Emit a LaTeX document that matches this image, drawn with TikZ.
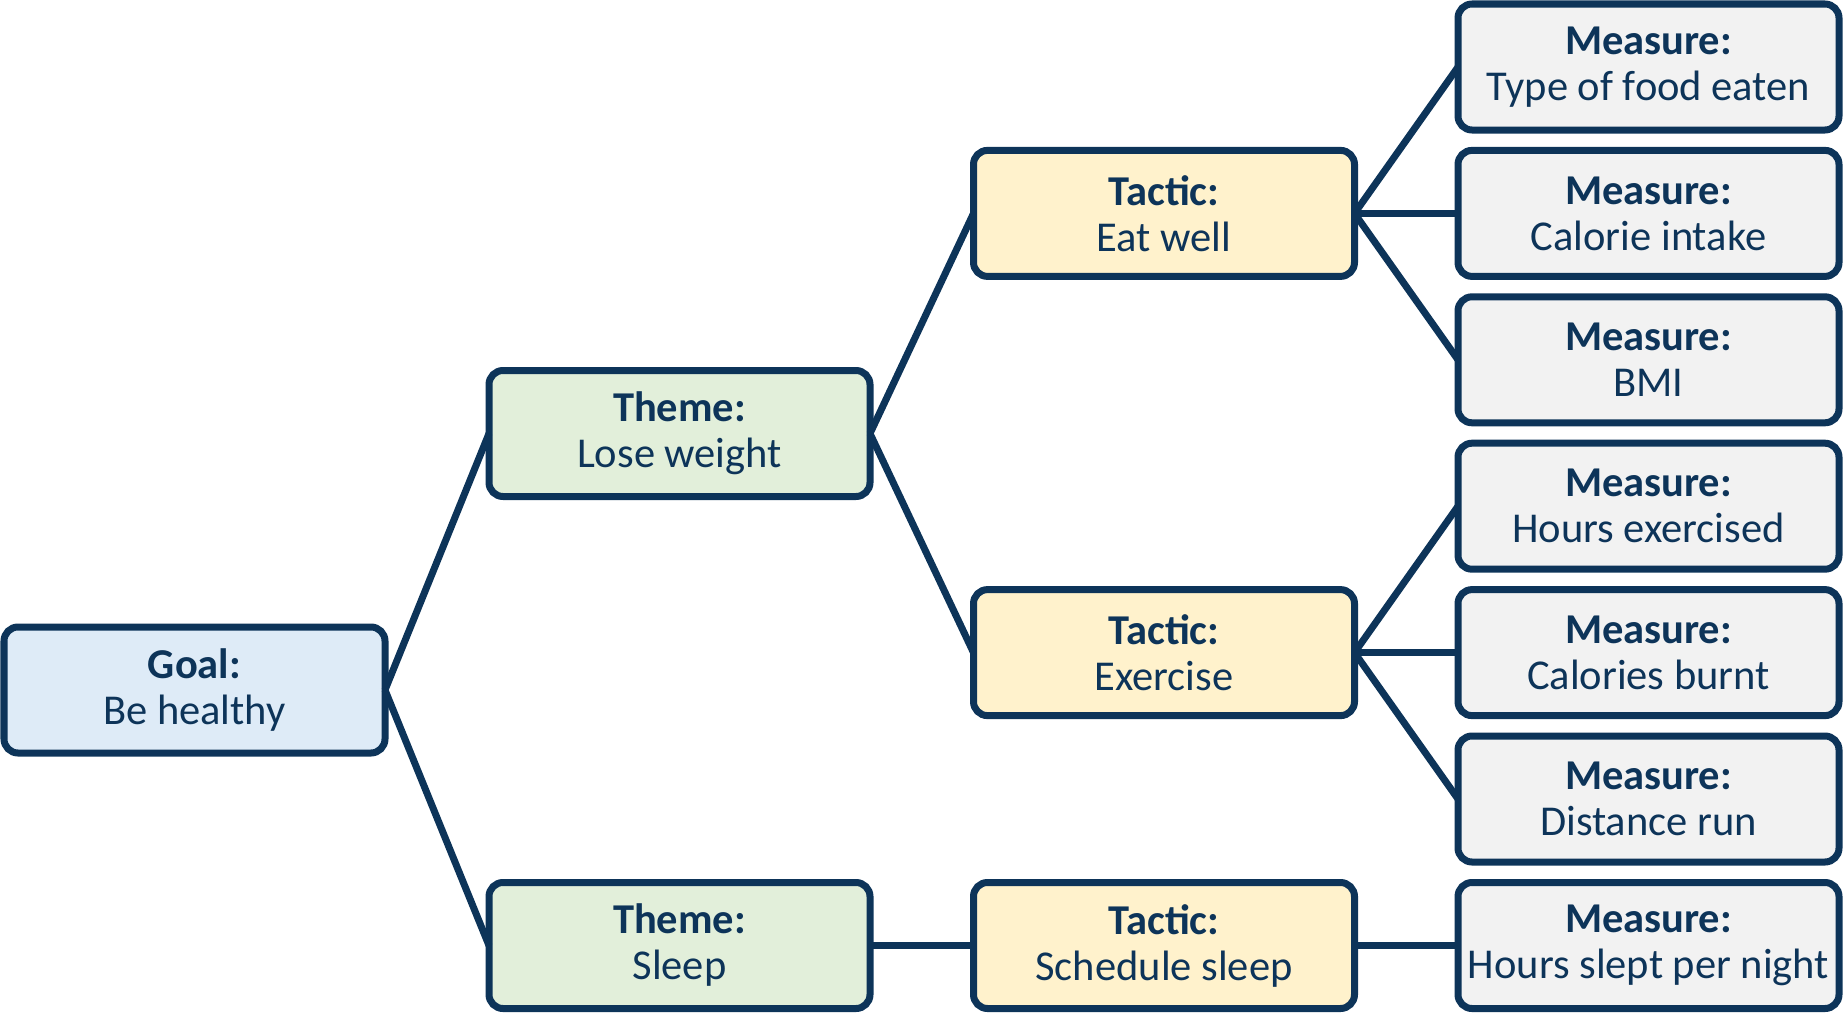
\documentclass[tikz,border=0pt]{standalone}
\usepackage{fontspec}
\setmainfont{Carlito}
\definecolor{navy}{HTML}{0D3459}
\definecolor{goalfill}{HTML}{DEEBF7}
\definecolor{themefill}{HTML}{E2EFDA}
\definecolor{tacticfill}{HTML}{FFF2CC}
\definecolor{measurefill}{HTML}{F2F2F2}
\begin{document}
\begin{tikzpicture}[x=1pt,y=-1pt,
  box/.style={draw=navy, line width=7pt, rounded corners=14pt, text=navy,
    minimum width=381pt, minimum height=126pt, outer sep=0pt, inner sep=0pt,
    align=center, font=\fontsize{42.5}{46}\selectfont},
  goalbox/.style={box, fill=goalfill},
  themebox/.style={box, fill=themefill},
  tacticbox/.style={box, fill=tacticfill},
  measurebox/.style={box, fill=measurefill},
  link/.style={draw=navy, line width=7pt}]
\useasboundingbox (0,0) rectangle (1845,1017);

% goal
\node[goalbox] (goal) at (194.5,690) {\textbf{Goal:}\\Be healthy};

% themes
\node[themebox] (lose) at (679.5,433.5) {\textbf{Theme:}\\Lose weight};
\node[themebox] (sleep) at (679.5,945.5) {\textbf{Theme:}\\Sleep};

% tactics
\node[tacticbox] (eat) at (1164,213.4) {\textbf{Tactic:}\\Eat well};
\node[tacticbox] (exercise) at (1164,652.6) {\textbf{Tactic:}\\Exercise};
\node[tacticbox] (schedule) at (1164,945.5) {\textbf{Tactic:}\\Schedule sleep};

% measures
\node[measurebox] (m1) at (1648.5,67) {\textbf{Measure:}\\Type of food eaten};
\node[measurebox] (m2) at (1648.5,213.4) {\textbf{Measure:}\\Calorie intake};
\node[measurebox] (m3) at (1648.5,359.8) {\textbf{Measure:}\\BMI};
\node[measurebox] (m4) at (1648.5,506.2) {\textbf{Measure:}\\Hours exercised};
\node[measurebox] (m5) at (1648.5,652.6) {\textbf{Measure:}\\Calories burnt};
\node[measurebox] (m6) at (1648.5,799) {\textbf{Measure:}\\Distance run};
\node[measurebox] (m7) at (1648.5,945.5) {\textbf{Measure:}\\Hours slept per night};

% connectors
\draw[link] (goal.east) -- (lose.west);
\draw[link] (goal.east) -- (sleep.west);
\draw[link] (lose.east) -- (eat.west);
\draw[link] (lose.east) -- (exercise.west);
\draw[link] (sleep.east) -- (schedule.west);
\draw[link] (eat.east) -- (m1.west);
\draw[link] (eat.east) -- (m2.west);
\draw[link] (eat.east) -- (m3.west);
\draw[link] (exercise.east) -- (m4.west);
\draw[link] (exercise.east) -- (m5.west);
\draw[link] (exercise.east) -- (m6.west);
\draw[link] (schedule.east) -- (m7.west);
\end{tikzpicture}
\end{document}
